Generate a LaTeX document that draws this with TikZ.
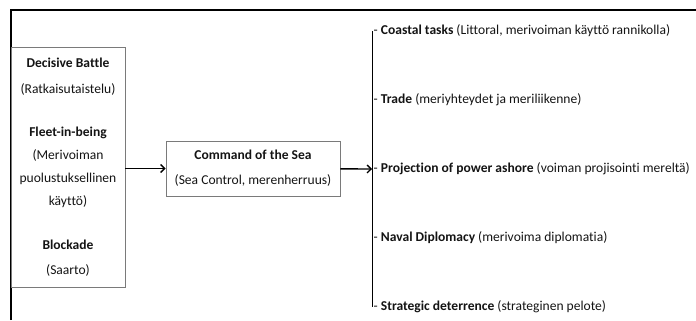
\documentclass[tikz,border=0pt]{standalone}
\usepackage{fontspec}
\setmainfont{Carlito}[Ligatures=NoCommon]
\usetikzlibrary{arrows.meta}

\definecolor{boxgray}{HTML}{7A7A7A}
\definecolor{ink}{HTML}{141414}

\tikzset{
    box/.style={draw=boxgray, line width=0.7pt, align=center, inner sep=0pt, text=ink},
    item/.style={anchor=west, inner sep=1.5pt, text=ink},
    link/.style={line width=1.4pt, -{Straight Barb[length=4pt,width=8pt]}},
}

\begin{document}
\begin{tikzpicture}[x=1bp, y=-1bp, font=\fontsize{13.6}{23}\selectfont]
        \useasboundingbox (0,0) rectangle (696,320);
        \draw[line width=1.4pt] (11,320) -- (11,10) -- (696,10);   % outer frame

        \node[box, minimum width=114bp, minimum height=240bp] (ways) at (68,167)
            {\textbf{Decisive Battle}\\[3pt]
             (Ratkaisutaistelu)\\[21pt]
             \textbf{Fleet-in-being}\\
             (Merivoiman\\
             puolustuksellinen\\
             käyttö)\\[21pt]
             \textbf{Blockade}\\[2pt]
             (Saarto)};
        \node[box, minimum width=174bp, minimum height=55bp] (command) at (253,168.5)
            {\textbf{Command of the Sea}\\[2pt]
             (Sea Control, merenherruus)};

        \node[item] (coast) at (372,31) {- \textbf{Coastal tasks} (Littoral, merivoiman käyttö rannikolla)};
        \node[item] (trade) at (372,100) {- \textbf{Trade} (meriyhteydet ja meriliikenne)};
        \node[item] (power) at (372,169) {- \textbf{Projection of power ashore} (voiman projisointi mereltä)};
        \node[item] (diplo) at (372,238) {- \textbf{Naval Diplomacy} (merivoima diplomatia)};
        \node[item] (deter) at (372,307) {- \textbf{Strategic deterrence} (strateginen pelote)};

        \draw[line width=1pt] (coast.west) -- (deter.west);

        \draw[link] (ways.east |- command) -- (command);
        \draw[link] (command) -- (power.west);
    \end{tikzpicture}
\end{document}
